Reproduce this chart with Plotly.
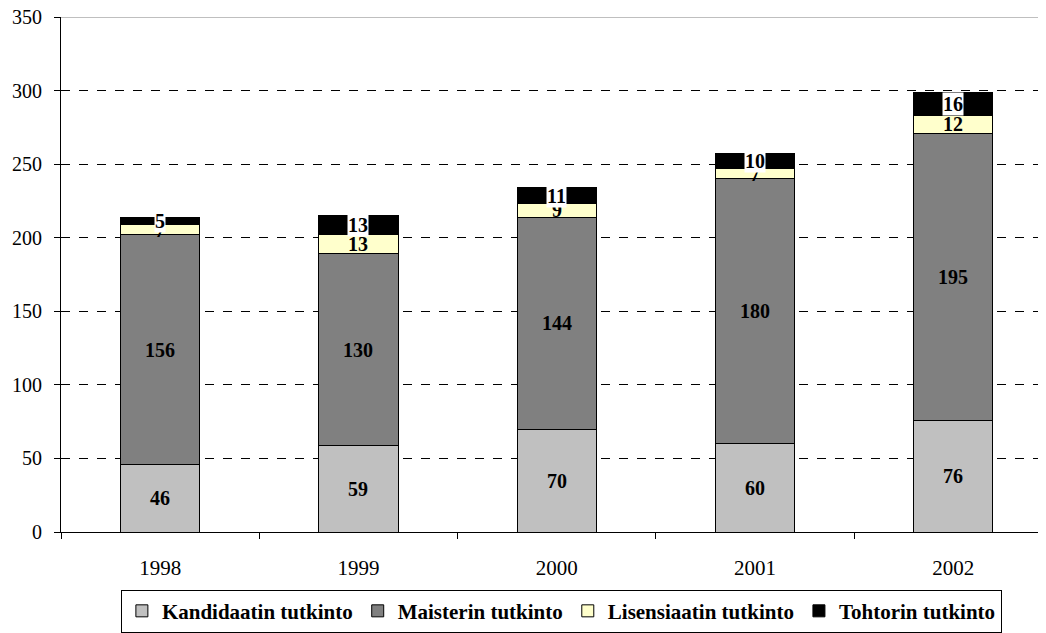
import plotly.graph_objects as go

years = ["1998", "1999", "2000", "2001", "2002"]
kandidaatti = [46, 59, 70, 60, 76]
maisteri = [156, 130, 144, 180, 195]
lisensiaatti = [7, 13, 9, 7, 12]
tohtori = [5, 13, 11, 10, 16]

series = [
    ("Kandidaatin tutkinto", kandidaatti, "#C0C0C0"),
    ("Maisterin tutkinto", maisteri, "#808080"),
    ("Lisensiaatin tutkinto", lisensiaatti, "#FFFFCC"),
    ("Tohtorin tutkinto", tohtori, "#000000"),
]

FONT = "Liberation Serif"
fig = go.Figure()
base = [0] * len(years)
for name, vals, col in series:
    fig.add_trace(go.Bar(
        x=years, y=vals, name="<b>%s</b>" % name, width=0.4,
        marker=dict(color=col, line=dict(color="black", width=1)),
    ))
    for i, v in enumerate(vals):
        mid = base[i] + v / 2
        kw = {}
        if name == "Tohtorin tutkinto":
            kw = dict(bgcolor="white", borderpad=0)
        fig.add_annotation(x=i, y=mid, text="<b>%d</b>" % v, showarrow=False,
                           font=dict(family=FONT, size=20, color="black"), **kw)
    base = [b + v for b, v in zip(base, vals)]

fig.update_layout(
    barmode="stack",
    width=1038, height=625,
    margin=dict(l=53, r=0, t=9, b=101, autoexpand=False),
    paper_bgcolor="white", plot_bgcolor="white",
    font=dict(family=FONT, size=21, color="black"),
    legend=dict(orientation="h", x=0.508, xanchor="center", y=-0.112, yanchor="top",
                bordercolor="black", borderwidth=1, traceorder="normal",
                font=dict(family=FONT, size=21, color="black"),
                itemwidth=30, tracegroupgap=0),
)
fig.add_shape(type="line", xref="paper", yref="y", x0=0, x1=1, y0=350, y1=350,
              line=dict(color="#808080", width=1))
fig.update_xaxes(
    type="category", range=[-0.5, 4.468], automargin=False,
    showline=True, linecolor="black", linewidth=1,
    ticks="outside", ticklen=6, tickcolor="black", tickson="boundaries",
    showgrid=False, ticklabelstandoff=17,
)
fig.update_yaxes(
    range=[0, 350], dtick=50, automargin=False,
    showline=True, linecolor="black", linewidth=1,
    ticks="outside", ticklen=6, tickcolor="black",
    showgrid=True, gridcolor="black", griddash="dash", gridwidth=1,
    zeroline=False, ticklabelstandoff=8, ticklabeloverflow="allow",
    tickfont=dict(size=20),
)
fig.write_html("out.html")
